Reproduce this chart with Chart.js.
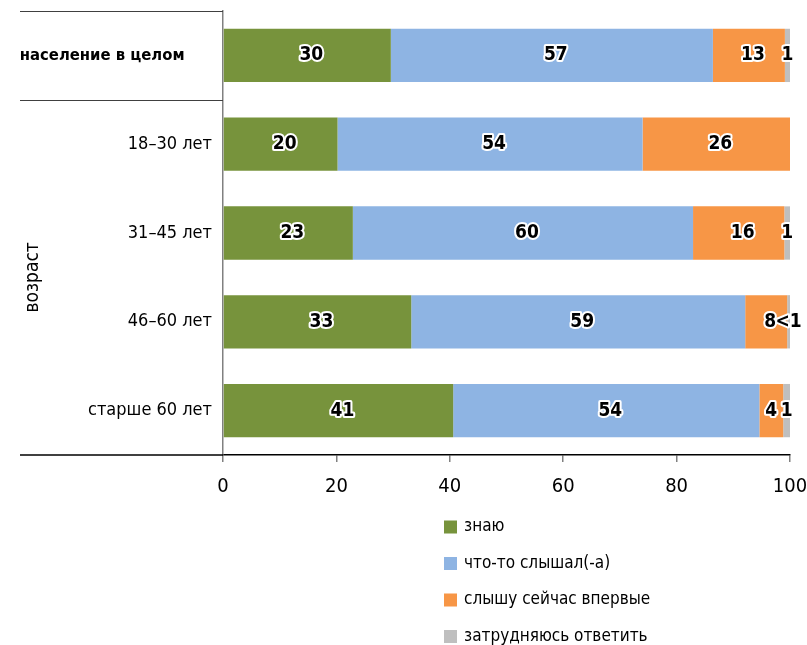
<!DOCTYPE html>
<html>
<head>
<meta charset="utf-8">
<script src="https://cdn.jsdelivr.net/npm/chart.js@4/dist/chart.umd.min.js"></script>
<style>
    body { margin: 0; background: #fff; }
    #wrap { position: relative; width: 807px; height: 645px; }
</style>
</head>
<body>
<div id="wrap"><canvas id="bars"></canvas></div>
<script>
var categories = ['население в целом', '18–30 лет', '31–45 лет', '46–60 лет', 'старше 60 лет'];
var seriesNames = ['знаю', 'что-то слышал(-а)', 'слышу сейчас впервые', 'затрудняюсь ответить'];

var know = [29.6, 20.2, 22.9, 33.2, 40.6];
var heard = [56.8, 53.8, 60.0, 58.9, 54.0];
var firstTime = [12.7, 26.0, 16.1, 7.4, 4.2];
var unsure = [0.9, 0, 1.0, 0.5, 1.2];

var knowText = ['30', '20', '23', '33', '41'];
var heardText = ['57', '54', '60', '59', '54'];
var firstTimeText = ['13', '26', '16', '8', '4'];
var unsureText = ['1', '', '1', '<1', '1'];

var xTicks = [0, 20, 40, 60, 80, 100];
var groupTitle = 'возраст';

var FONT = '"DejaVu Sans Condensed", "DejaVu Sans", sans-serif';
var colors = ['#77933C', '#8EB4E3', '#F79646', '#BFBFBF'];
var texts = [knowText, heardText, firstTimeText, unsureText];

var barLabels = {
    id: 'barLabels',
    afterDatasetsDraw: function(chart){
        var ctx = chart.ctx;
        ctx.save();
        ctx.font = 'bold 19px ' + FONT;
        ctx.textAlign = 'center';
        ctx.textBaseline = 'middle';
        ctx.lineJoin = 'round';
        chart.data.datasets.forEach(function(ds, di){
            var meta = chart.getDatasetMeta(di);
            meta.data.forEach(function(el, i){
                var t = texts[di][i];
                if (!t) return;
                var w = Math.abs(el.x - el.base);
                var cx = (el.x + el.base) / 2 + (w > 30 ? 4 : 0);
                ctx.lineWidth = 4;
                ctx.strokeStyle = '#fff';
                ctx.strokeText(t, cx, el.y);
                ctx.fillStyle = '#000';
                ctx.fillText(t, cx, el.y);
            });
        });
        ctx.restore();
    }
};

var frame = {
    id: 'frame',
    afterDraw: function(chart){
        var ctx = chart.ctx;
        var area = chart.chartArea;
        var y = chart.scales.y;
        ctx.save();
        // top line and group separator on the left side
        ctx.strokeStyle = '#404040';
        ctx.lineWidth = 1;
        ctx.beginPath();
        ctx.moveTo(20, area.top + 0.5);
        ctx.lineTo(area.left, area.top + 0.5);
        var sep = Math.round((y.getPixelForTick(0) + y.getPixelForTick(1)) / 2) + 0.5;
        ctx.moveTo(20, sep);
        ctx.lineTo(area.left, sep);
        ctx.stroke();
        // x axis line continues to the left edge
        ctx.strokeStyle = '#000';
        ctx.lineWidth = 1.5;
        ctx.beginPath();
        ctx.moveTo(20, area.bottom);
        ctx.lineTo(area.left, area.bottom);
        ctx.stroke();
        // rotated group title
        var gy = (y.getPixelForTick(1) + y.getPixelForTick(4)) / 2;
        ctx.translate(33, gy);
        ctx.rotate(-Math.PI / 2);
        ctx.font = '19px ' + FONT;
        ctx.fillStyle = '#000';
        ctx.textAlign = 'center';
        ctx.textBaseline = 'middle';
        ctx.fillText(groupTitle, 0, 0);
        ctx.restore();

        // legend, one item per row
        ctx.save();
        ctx.font = '17px ' + FONT;
        ctx.textBaseline = 'middle';
        ctx.textAlign = 'left';
        chart.data.datasets.forEach(function(ds, i){
            var cy = 527 + i * 36.5;
            ctx.fillStyle = ds.backgroundColor;
            ctx.fillRect(444, cy - 6.5, 13, 13);
            ctx.fillStyle = '#000';
            ctx.fillText(ds.label, 464, cy);
        });
        ctx.restore();
    }
};

var series = [know, heard, firstTime, unsure];
var datasets = series.map(function(vals, i){
    return {
        label: seriesNames[i],
        data: vals,
        backgroundColor: colors[i],
        borderWidth: 0,
        categoryPercentage: 0.6,
        barPercentage: 1
    };
});

new Chart(document.getElementById('bars'), {
    type: 'bar',
    data: { labels: categories, datasets: datasets },
    plugins: [barLabels, frame],
    options: {
        indexAxis: 'y',
        responsive: true,
        maintainAspectRatio: false,
        animation: false,
        layout: { padding: { top: 11, right: 17, left: 0, bottom: 0 } },
        plugins: { legend: { display: false }, tooltip: { enabled: false } },
        scales: {
            x: {
                stacked: true,
                min: 0,
                max: 100,
                afterBuildTicks: function(s){ s.ticks = xTicks.map(function(v){ return { value: v }; }); },
                afterFit: function(s){ s.height = 190; s.paddingLeft = 0; s.paddingRight = 0; },
                grid: { drawOnChartArea: false, drawTicks: true, tickLength: 7, color: '#808080', lineWidth: 1.5 },
                border: { display: true, color: '#000', width: 1.5 },
                ticks: { color: '#000', padding: 13, font: { family: FONT, size: 20 } }
            },
            y: {
                stacked: true,
                afterFit: function(s){ s.width = 223; s.paddingTop = 0; s.paddingBottom = 0; },
                grid: { display: false, drawTicks: false },
                border: { display: true, color: '#808080', width: 1.5 },
                ticks: {
                    color: '#000',
                    padding: 11,
                    callback: function(v, i){
                        var t = this.getLabelForValue(v);
                        return i === 0 ? t + '\u2003\u2002 ' : t;
                    },
                    font: function(c){
                        return c.index === 0
                            ? { family: FONT, size: 16.5, weight: 'bold' }
                            : { family: FONT, size: 18 };
                    }
                }
            }
        }
    }
});
</script>
</body>
</html>
